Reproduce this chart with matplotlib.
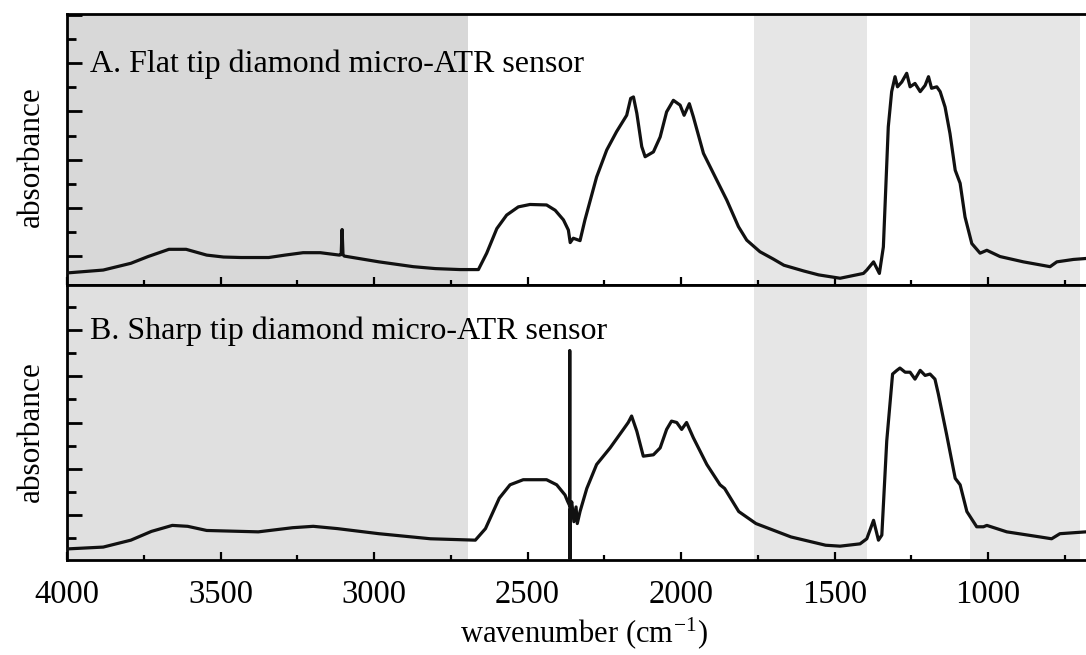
import matplotlib
matplotlib.use('Agg')
import matplotlib.pyplot as plt
from matplotlib.ticker import MultipleLocator, FixedLocator

plt.rcParams['font.family'] = ['Liberation Serif', 'DejaVu Serif']
plt.rcParams['mathtext.fontset'] = 'stix'

# ---- data ----
wn_A = [4000, 3882, 3792, 3736, 3668, 3612, 3545, 3490, 3433, 3343,
        3290, 3231, 3175, 3113, 3107, 3104, 3101, 3097, 2984, 2872,
        2800, 2720, 2660, 2633, 2600, 2568, 2530, 2492, 2438, 2410,
        2383, 2367, 2361, 2351, 2329, 2313, 2275, 2242, 2210, 2177,
        2164, 2155, 2144, 2128, 2117, 2090, 2068, 2047, 2025, 2003,
        1990, 1973, 1960, 1927, 1884, 1851, 1813, 1786, 1743, 1700,
        1665, 1600, 1552, 1482, 1406, 1395, 1373, 1354, 1341, 1325,
        1314, 1303, 1295, 1281, 1265, 1254, 1238, 1221, 1205, 1194,
        1184, 1167, 1156, 1140, 1124, 1107, 1091, 1075, 1053, 1026,
        1004, 961, 885, 798, 776, 722, 681]
abs_A = [-0.35, -0.29, -0.15, -0.01, 0.14, 0.14, 0.02, -0.02, -0.03, -0.03,
         0.02, 0.07, 0.07, 0.02, 0.03, 0.55, 0.03, 0.00, -0.12, -0.22,
         -0.26, -0.28, -0.28, 0.06, 0.57, 0.85, 1.02, 1.07, 1.06, 0.95,
         0.75, 0.54, 0.28, 0.37, 0.32, 0.75, 1.64, 2.20, 2.58, 2.92,
         3.27, 3.30, 2.96, 2.27, 2.06, 2.16, 2.47, 2.99, 3.23, 3.13,
         2.92, 3.16, 2.89, 2.13, 1.58, 1.16, 0.61, 0.33, 0.09, -0.06,
         -0.19, -0.31, -0.39, -0.46, -0.36, -0.29, -0.12, -0.36, 0.19, 2.68,
         3.41, 3.72, 3.51, 3.61, 3.79, 3.51, 3.58, 3.41, 3.54, 3.72,
         3.48, 3.51, 3.41, 3.09, 2.54, 1.78, 1.51, 0.81, 0.26, 0.06,
         0.12, -0.01, -0.12, -0.22, -0.12, -0.07, -0.05]

wn_B = [4000, 3882, 3792, 3725, 3657, 3607, 3545, 3377, 3265, 3198,
        3119, 2984, 2816, 2670, 2637, 2592, 2557, 2514, 2438, 2405,
        2378, 2370, 2363, 2362.5, 2362, 2361, 2356, 2349, 2342, 2338,
        2329, 2307, 2275, 2231, 2188, 2172, 2161, 2144, 2123, 2090,
        2068, 2047, 2031, 2014, 1998, 1982, 1960, 1916, 1873, 1858,
        1812, 1756, 1642, 1529, 1482, 1417, 1395, 1373, 1357, 1346,
        1330, 1311, 1297, 1287, 1270, 1254, 1238, 1221, 1205, 1189,
        1173, 1162, 1135, 1107, 1091, 1069, 1037, 1015, 1004, 939,
        831, 793, 766, 681]
abs_B = [-0.74, -0.70, -0.55, -0.36, -0.23, -0.25, -0.34, -0.37, -0.28, -0.25,
         -0.30, -0.41, -0.52, -0.55, -0.30, 0.36, 0.65, 0.76, 0.76, 0.65,
         0.43, 0.30, 0.20, 3.56, -1.50, 0.10, 0.28, -0.15, 0.17, -0.19,
         0.07, 0.57, 1.09, 1.45, 1.85, 2.00, 2.14, 1.81, 1.27, 1.30,
         1.45, 1.85, 2.03, 2.00, 1.85, 2.00, 1.67, 1.09, 0.65, 0.57,
         0.07, -0.19, -0.48, -0.66, -0.68, -0.63, -0.52, -0.12, -0.55, -0.44,
         1.60, 3.05, 3.13, 3.18, 3.09, 3.09, 2.94, 3.13, 3.02, 3.05,
         2.94, 2.62, 1.74, 0.79, 0.65, 0.07, -0.26, -0.26, -0.23, -0.37,
         -0.48, -0.52, -0.41, -0.37]

shade_ranges = [(4000, 2693), (1762, 1393), (1060, 700)]
panel_titles = ['A. Flat tip diamond micro-ATR sensor',
                'B. Sharp tip diamond micro-ATR sensor']
xticks = [4000, 3500, 3000, 2500, 2000, 1500, 1000]

# ---- figure ----
W, H = 1086, 655
fig = plt.figure(figsize=(W / 100, H / 100), dpi=100)
L = 67 / W
axA = fig.add_axes([L, 1 - 285 / H, 1 - L, (285 - 14) / H])
axB = fig.add_axes([L, 1 - 560 / H, 1 - L, (560 - 285) / H])

ylims = [(-0.60, 5.02), (-0.98, 4.98)]
minors = [[0.5, 1.5, 2.5, 3.5, 4.5], [-0.5, 0.5, 1.5, 2.5, 3.5, 4.5]]
shade_cols = [['#d8d8d8', '#e6e6e6', '#e6e6e6'], ['#e0e0e0', '#e6e6e6', '#e6e6e6']]

for i, (ax, wn, ab) in enumerate([(axA, wn_A, abs_A), (axB, wn_B, abs_B)]):
    ax.set_xlim(4000, 681)
    ax.set_ylim(*ylims[i])
    for (a, b), c in zip(shade_ranges, shade_cols[i]):
        ax.axvspan(a, b, color=c, lw=0, zorder=0)
    ax.plot(wn, ab, color='#111111', lw=2.3, zorder=3,
            solid_joinstyle='round', solid_capstyle='round')
    ax.spines['right'].set_visible(False)
    for s in ['top', 'bottom', 'left']:
        ax.spines[s].set_linewidth(2.0)
    ax.xaxis.set_major_locator(FixedLocator(xticks))
    ax.xaxis.set_minor_locator(MultipleLocator(250))
    ax.yaxis.set_major_locator(MultipleLocator(1))
    ax.yaxis.set_minor_locator(FixedLocator(minors[i]))
    ax.tick_params(axis='x', which='both', direction='in', top=False, width=1.6)
    ax.tick_params(axis='x', which='major', length=6)
    ax.tick_params(axis='x', which='minor', length=3.5)
    ax.tick_params(axis='y', which='both', direction='in', labelleft=False, width=2.0)
    ax.tick_params(axis='y', which='major', length=11)
    ax.tick_params(axis='y', which='minor', length=6.5)
    ax.text(3925, 3.81, panel_titles[i], fontsize=23, ha='left', va='baseline', zorder=4)

axA.tick_params(axis='x', labelbottom=False)
axB.tick_params(axis='x', which='major', labelsize=23.5, pad=14)

fig.text(31 / W, 1 - 157 / H, 'absorbance', rotation=90, fontsize=22.5, ha='center', va='center')
fig.text(31 / W, 1 - 432 / H, 'absorbance', rotation=90, fontsize=22.5, ha='center', va='center')
fig.text(584 / W, 1 - 643 / H, r'wavenumber (cm$^{\mathregular{-1}}$)', fontsize=22,
         ha='center', va='baseline')

fig.savefig('out.png', dpi=100, facecolor='white')
